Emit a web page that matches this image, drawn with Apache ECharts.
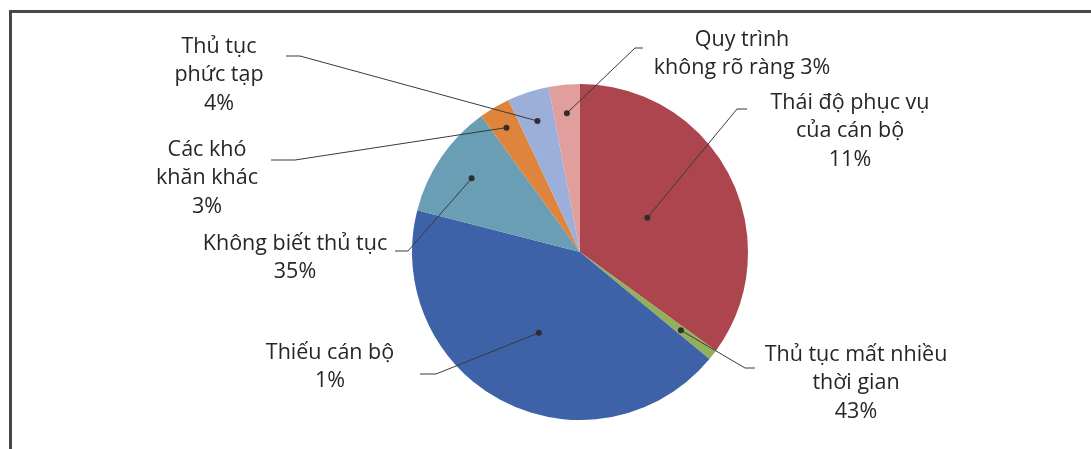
<!DOCTYPE html>
<html>
<head>
<meta charset="utf-8">
<script src="https://cdn.jsdelivr.net/npm/echarts@6/dist/echarts.min.js"></script>
<style>
  html, body { margin: 0; padding: 0; background: #ffffff; }
  #chart { width: 1091px; height: 449px; }
</style>
</head>
<body>
<div id="chart"></div>
<script>
// Khó khăn khi thực hiện thủ tục hành chính (tỷ lệ %)
const categories = [
  'Không biết thủ tục',
  'Thiếu cán bộ',
  'Thủ tục mất nhiều thời gian',
  'Thái độ phục vụ của cán bộ',
  'Các khó khăn khác',
  'Thủ tục phức tạp',
  'Quy trình không rõ ràng'
];
const values = [35, 1, 43, 11, 3, 4, 3];
// label text as printed, {p} is replaced with the computed percentage
const labelTemplates = [
  'Không biết thủ tục\n{p}',
  'Thiếu cán bộ\n{p}',
  'Thủ tục mất nhiều\nthời gian\n{p}',
  'Thái độ phục vụ\ncủa cán bộ\n{p}',
  'Các khó\nkhăn khác\n{p}',
  'Thủ tục\nphức tạp\n{p}',
  'Quy trình\nkhông rõ ràng {p}'
];

const colors = ['#AD454E', '#92B05B', '#3D62A7', '#699EB4', '#DE843C', '#9CAFDB', '#E09E9D'];

const CX = 580, CY = 252, R = 168;

// Where each label sits and which slice its leader line points into.
// target: slice index, rf: radius fraction of the leader dot,
// pos: centre of the text block, elbow / end: leader line bend and end.
const placement = [
  { target: 3, rf: 0.78, pos: [295, 258], elbow: [408, 251], end: [395, 251] },
  { target: 2, rf: 0.54, pos: [330, 367], elbow: [436, 374], end: [420, 374] },
  { target: 1, rf: 0.76, pos: [856, 383], elbow: [745, 368], end: [755, 368] },
  { target: 0, rf: 0.45, pos: [850, 131], elbow: [737, 109], end: [747, 109] },
  { target: 4, rf: 0.86, pos: [207, 178], elbow: [295, 160], end: [271, 160] },
  { target: 5, rf: 0.82, pos: [219, 75],  elbow: [300, 56],  end: [286, 56] },
  { target: 6, rf: 0.83, pos: [742, 54],  elbow: [635, 48],  end: [643, 48] }
];

const total = values.reduce((a, b) => a + b, 0);
const midAngles = [];
(function () {
  let acc = 0;
  values.forEach(function (v) {
    midAngles.push((acc + v / 2) / total * Math.PI * 2);
    acc += v;
  });
})();

function dotPoint(i) {
  const p = placement[i];
  const a = midAngles[p.target];
  const r = R * p.rf;
  return [CX + r * Math.sin(a), CY - r * Math.cos(a)];
}

const chart = echarts.init(document.getElementById('chart'), null, { renderer: 'canvas' });

// leader lines and their end dots, drawn above the slices
const leaders = [];
placement.forEach(function (p, i) {
  const d = dotPoint(i);
  leaders.push({
    type: 'polyline',
    shape: { points: [d, p.elbow, p.end] },
    style: { stroke: '#3a3a3a', lineWidth: 1, fill: null },
    z: 100
  });
  leaders.push({
    type: 'circle',
    shape: { cx: d[0], cy: d[1], r: 3 },
    style: { fill: '#2e2e2e' },
    z: 101
  });
});

chart.setOption({
  backgroundColor: '#ffffff',
  animation: false,
  color: colors,
  graphic: [
    { type: 'polyline', shape: { points: [[10.5, 449], [10.5, 11.5], [1091, 11.5]] },
      style: { stroke: '#484848', lineWidth: 3, fill: null }, z: 50 }
  ].concat(leaders),
  series: [{
    type: 'pie',
    center: [CX, CY],
    radius: [0, R],
    startAngle: 90,
    clockwise: true,
    avoidLabelOverlap: false,
    data: categories.map(function (c, i) { return { name: c, value: values[i] }; }),
    itemStyle: { borderWidth: 0 },
    label: {
      show: true,
      position: 'outside',
      overflow: 'none',
      fontFamily: 'Open Sans',
      fontSize: 21.5,
      lineHeight: 28.5,
      color: '#262626',
      align: 'center',
      formatter: function (params) {
        return labelTemplates[params.dataIndex].replace('{p}', Math.round(params.percent) + '%');
      }
    },
    labelLine: { show: false },
    labelLayout: function (params) {
      const p = placement[params.dataIndex];
      return {
        x: p.pos[0],
        y: p.pos[1],
        align: 'center',
        verticalAlign: 'middle'
      };
    }
  }]
});
</script>
</body>
</html>
